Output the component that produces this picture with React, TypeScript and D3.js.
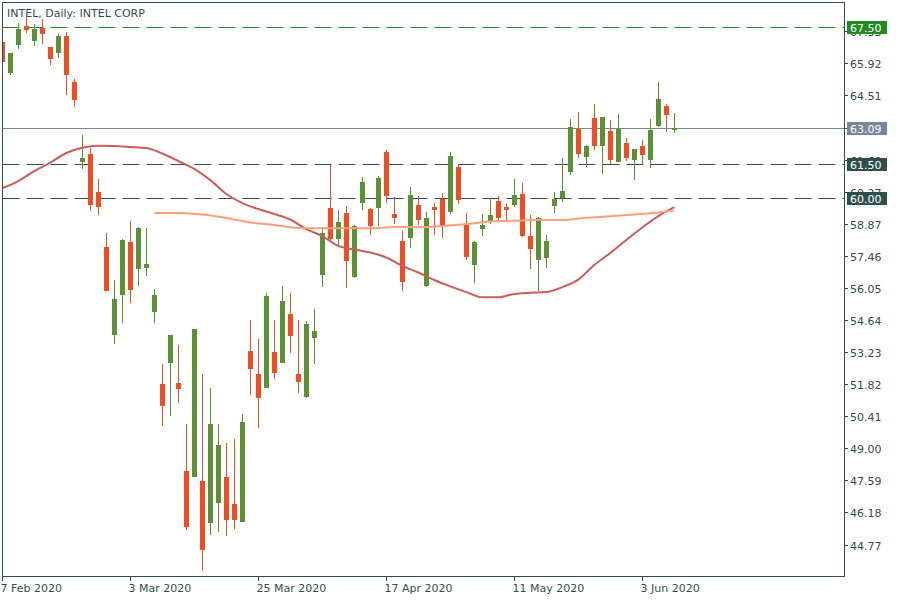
import React from "react";
import * as d3 from "d3";

const title = "INTEL, Daily:  INTEL CORP";

const openP = [66.85, 65.5, 66.73, 67.55, 66.91, 67.46, 66.63, 66.38, 67.11, 65.09, 61.58, 61.93, 60.26, 57.84, 53.99, 55.75, 58.06, 56.89, 56.93, 55.0, 51.82, 52.76, 51.87, 48.0, 47.75, 47.56, 45.73, 46.61, 47.74, 46.55, 45.77, 53.27, 52.26, 51.66, 53.23, 52.76, 54.9, 52.26, 51.26, 53.86, 56.62, 59.55, 58.21, 59.33, 56.54, 59.79, 59.51, 59.55, 62.01, 59.29, 58.1, 58.25, 59.69, 56.14, 59.6, 59.95, 59.38, 61.36, 58.81, 57.06, 58.65, 58.94, 59.86, 59.6, 59.69, 60.17, 58.32, 57.27, 57.36, 59.66, 59.99, 61.15, 63.03, 61.81, 63.51, 62.29, 62.94, 61.59, 62.41, 61.68, 62.28, 61.68, 63.17, 64.04, 63.0];
const highP = [66.95, 66.37, 67.68, 68.08, 67.64, 67.86, 66.63, 67.2, 67.29, 65.22, 62.76, 62.18, 60.83, 58.46, 56.39, 58.19, 58.98, 58.72, 58.68, 56.0, 52.7, 53.97, 53.54, 50.06, 54.24, 52.26, 51.65, 50.06, 49.23, 49.41, 50.5, 54.63, 53.8, 55.82, 54.63, 56.13, 55.82, 54.63, 54.59, 55.12, 58.72, 61.44, 59.47, 59.64, 58.8, 60.92, 59.55, 60.96, 62.1, 60.04, 58.54, 60.48, 60.08, 59.4, 59.77, 60.21, 62.01, 61.49, 59.33, 58.1, 59.29, 59.99, 60.08, 59.77, 60.83, 60.65, 59.25, 59.16, 58.37, 60.26, 61.75, 63.46, 63.77, 62.32, 64.12, 63.55, 63.42, 63.68, 62.63, 62.15, 62.54, 63.46, 65.09, 64.12, 63.73];
const lowP = [65.9, 65.41, 66.55, 67.26, 66.69, 66.77, 65.85, 66.16, 64.53, 64.01, 61.27, 59.44, 59.26, 55.92, 53.59, 54.52, 55.39, 56.14, 56.58, 54.52, 49.99, 50.43, 51.0, 45.42, 47.75, 43.62, 45.2, 45.33, 45.16, 45.46, 45.77, 51.35, 49.9, 51.66, 52.05, 52.76, 53.2, 51.44, 51.22, 52.71, 56.1, 58.1, 57.9, 56.05, 56.5, 59.47, 58.37, 58.76, 59.77, 58.85, 55.92, 57.81, 58.81, 56.1, 58.37, 58.24, 59.29, 59.73, 57.28, 56.27, 58.32, 58.85, 59.03, 59.03, 59.6, 58.3, 56.87, 55.92, 56.92, 59.35, 59.82, 61.02, 61.76, 61.37, 62.1, 61.06, 61.49, 61.59, 61.63, 60.8, 61.5, 61.33, 63.13, 62.91, 62.86];
const closeP = [65.98, 66.37, 67.42, 67.39, 67.42, 67.21, 66.11, 67.11, 65.41, 64.31, 61.75, 59.7, 59.61, 55.92, 55.56, 58.15, 55.96, 58.68, 57.09, 55.73, 50.87, 53.97, 51.62, 45.55, 54.24, 44.54, 50.06, 49.14, 45.86, 45.86, 50.15, 52.49, 51.22, 55.69, 52.32, 55.47, 53.94, 51.92, 54.46, 54.15, 58.46, 58.21, 58.94, 57.24, 58.76, 60.7, 58.76, 60.87, 60.08, 59.12, 56.3, 60.13, 59.04, 59.12, 59.47, 58.76, 61.84, 59.91, 57.41, 58.06, 58.81, 59.25, 59.12, 59.47, 60.13, 58.32, 57.75, 59.12, 58.1, 59.95, 60.3, 63.11, 61.94, 62.28, 62.29, 63.55, 61.68, 63.03, 61.76, 62.15, 61.9, 62.98, 64.34, 63.65, 63.09];

const maFastIdx = [0, 2, 4, 6, 8, 10, 12, 14, 16, 18, 20, 22, 24, 26, 28, 30, 32, 34, 36, 38, 40, 42, 44, 46, 48, 50, 52, 54, 56, 58, 60, 62, 64, 66, 68, 70, 72, 74, 76, 78, 80, 82, 84];
const maFastVal = [60.43, 60.74, 61.18, 61.55, 61.97, 62.2, 62.29, 62.28, 62.24, 62.19, 61.95, 61.62, 61.27, 60.78, 60.17, 59.77, 59.51, 59.29, 59.05, 58.63, 58.32, 57.89, 57.73, 57.6, 57.38, 57.01, 56.72, 56.39, 56.11, 55.86, 55.63, 55.63, 55.78, 55.83, 55.86, 56.08, 56.41, 57.05, 57.58, 58.15, 58.7, 59.2, 59.59];

const maSlowIdx = [19, 22, 25, 28, 31, 34, 37, 40, 43, 46, 49, 52, 55, 58, 61, 64, 67, 70, 73, 76, 79, 82, 84];
const maSlowVal = [59.34, 59.34, 59.27, 59.12, 58.92, 58.81, 58.68, 58.66, 58.66, 58.66, 58.72, 58.71, 58.76, 58.85, 58.96, 59.0, 59.03, 59.03, 59.13, 59.19, 59.27, 59.36, 59.44];

const priceTicks = [44.77, 46.18, 47.59, 49.0, 50.41, 51.82, 53.23, 54.64, 56.05, 57.46, 58.87, 60.27, 61.68, 63.09, 64.51, 65.92, 67.33];

const dateTickIdx = [0, 16, 32, 48, 64, 80];
const dateTickLabels = ["7 Feb 2020", "3 Mar 2020", "25 Mar 2020", "17 Apr 2020", "11 May 2020", "3 Jun 2020"];

const levelValues = [67.5, 61.5, 60.0];
const levelColors = ["#228b22", "#2f4f4f", "#2f4f4f"];
const currentPrice = 63.09;

const W = 900;
const H = 600;
const left = 2.5;
const right = 844.5;
const top = 2.5;
const bottom = 576.5;
const axisColor = "#2f4f4f";
const upColor = "#5b9132";
const downColor = "#f44b23";
const font = "'DejaVu Sans', Verdana, sans-serif";

export default function App() {
  const x = d3.scaleLinear().domain([0, 105.25]).range([2.3, 844.3]);
  const y = d3.scaleLinear().domain([43.386, 68.43]).range([576, 6]);

  const fastLine = d3
    .line<number>()
    .x((_, i) => x(maFastIdx[i]))
    .y((d) => y(d))
    .curve(d3.curveMonotoneX);
  const slowLine = d3
    .line<number>()
    .x((_, i) => x(maSlowIdx[i]))
    .y((d) => y(d))
    .curve(d3.curveMonotoneX);

  const bodyW = 5;

  return (
    <svg
      width={W}
      height={H}
      style={{ position: "fixed", left: 0, top: 0, background: "#fff" }}
      fontFamily={font}
    >
      <defs>
        <clipPath id="plot">
          <rect x={left} y={top} width={right - left} height={bottom - top} />
        </clipPath>
      </defs>
      <rect x={0} y={0} width={W} height={H} fill="#fff" />

      <g clipPath="url(#plot)">
        {/* level lines */}
        {levelValues.map((v, i) => (
          <line
            key={"lv" + i}
            x1={left}
            x2={right}
            y1={Math.round(y(v)) + 0.5}
            y2={Math.round(y(v)) + 0.5}
            stroke={levelColors[i]}
            strokeWidth={1}
            strokeDasharray="17,7"
          />
        ))}
        <line
          x1={left}
          x2={right}
          y1={Math.round(y(currentPrice)) + 0.5}
          y2={Math.round(y(currentPrice)) + 0.5}
          stroke="#778899"
          strokeWidth={1}
        />

        {/* candles */}
        {openP.map((o, i) => {
          const c = closeP[i];
          const up = c >= o;
          const col = up ? upColor : downColor;
          const cx = Math.round(x(i));
          const yTop = Math.round(y(Math.max(o, c)));
          const yBot = Math.round(y(Math.min(o, c)));
          return (
            <g key={"c" + i} shapeRendering="crispEdges">
              <rect
                x={cx}
                y={Math.round(y(highP[i]))}
                width={1}
                height={Math.max(1, Math.round(y(lowP[i])) - Math.round(y(highP[i])))}
                fill={col}
              />
              <rect
                x={cx - 2}
                y={yTop}
                width={bodyW}
                height={Math.max(2, yBot - yTop)}
                fill={col}
              />
            </g>
          );
        })}

        {/* moving averages */}
        <path d={fastLine(maFastVal) || ""} fill="none" stroke="#cd5c5c" strokeWidth={2} />
        <path d={slowLine(maSlowVal) || ""} fill="none" stroke="#ffa07a" strokeWidth={2} />
      </g>

      {/* frame */}
      <rect
        x={left}
        y={top}
        width={right - left}
        height={bottom - top}
        fill="none"
        stroke={axisColor}
        strokeWidth={1}
        shapeRendering="crispEdges"
      />

      {/* title */}
      <text x={7} y={17} fontSize={11} fill={axisColor}>
        {title}
      </text>

      {/* price axis */}
      {priceTicks.map((v, i) => {
        const yy = Math.round(y(v)) + 0.5;
        return (
          <g key={"pt" + i}>
            <line x1={right} x2={right + 3} y1={yy} y2={yy} stroke={axisColor} shapeRendering="crispEdges" />
            <text x={850} y={yy + 4} fontSize={11} fill={axisColor}>
              {v.toFixed(2)}
            </text>
          </g>
        );
      })}

      {/* level labels */}
      {levelValues.map((v, i) => {
        const yy = Math.round(y(v));
        return (
          <g key={"ll" + i}>
            <rect x={847} y={yy - 6.5} width={40} height={13.5} fill={levelColors[i]} shapeRendering="crispEdges" />
            <text x={850} y={yy + 4.5} fontSize={11} fill="#fff">
              {v.toFixed(2)}
            </text>
          </g>
        );
      })}
      {(() => {
        const yy = Math.round(y(currentPrice));
        return (
          <g>
            <rect x={847} y={yy - 6.5} width={40} height={13.5} fill="#778899" shapeRendering="crispEdges" />
            <text x={850} y={yy + 4.5} fontSize={11} fill="#fff">
              {currentPrice.toFixed(2)}
            </text>
          </g>
        );
      })()}

      {/* date axis */}
      {dateTickIdx.map((idx, i) => {
        const xx = Math.round(x(idx)) + 0.5;
        return (
          <g key={"dt" + i}>
            <line x1={xx} x2={xx} y1={bottom} y2={bottom + 4} stroke={axisColor} shapeRendering="crispEdges" />
            <text x={xx - 2} y={592} fontSize={11} fill={axisColor}>
              {dateTickLabels[i]}
            </text>
          </g>
        );
      })}
    </svg>
  );
}
